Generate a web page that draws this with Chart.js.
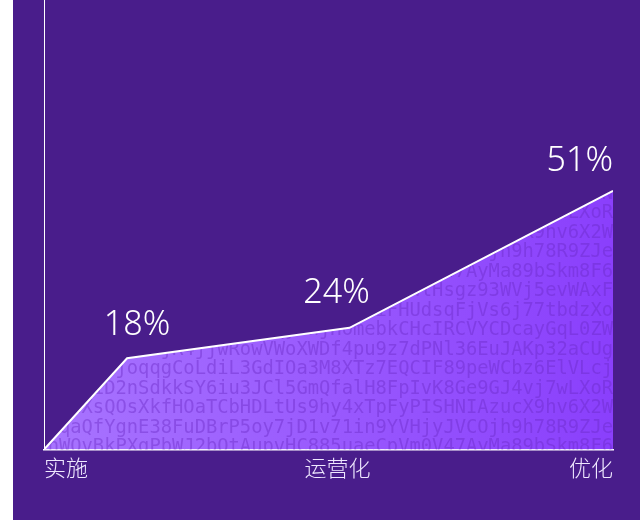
<!DOCTYPE html>
<html>
<head>
<meta charset="utf-8">
<script src="https://cdn.jsdelivr.net/npm/chart.js@4"></script>
<style>
  html, body { margin: 0; background: #fff; }
  #wrap { position: absolute; left: 13px; top: 0; width: 627px; height: 520px; background: #491d8b; }
</style>
</head>
<body>
<div id="wrap"><canvas id="chart" width="627" height="520"></canvas></div>
<script>
// stages shown on the x axis and where they sit on a 0-100 track
const stages = ["实施", "运营化", "优化"];
const stageTicks = [0, 51.6, 100];

// adoption curve
const progressX = [0, 14.6, 53.7, 100];
const progressPct = [0, 18, 24, 51];
const pctLabels = ["", "18%", "24%", "51%"];

// filler text that shows through the area (bottom row first)
const noiseRows = [
  "KehWOvBkPXgPbWJ2bOtAupvHC885uaeCpVm0V47AyMa89bSkm8F6",
  "7TqaQfYgnE38FuDBrP5oy7jD1v71in9YVHjyJVCOjh9h78R9ZJe",
  "bN4lXsQOsXkfHOaTCbHDLtUs9hy4xTpFyPISHNIAzucX9hv6X2W",
  "Wm8p1D2nSdkkSY6iu3JCl5GmQfalH8FpIvK8Ge9GJ4vj7wLXoR",
  "cZ5uRkjoqqgCoLdiL3GdIOa3M8XTz7EQCIF89peWCbz6ElVLcj",
  "Hn2xPeMv3sjR4jjwRowVWoXWDf4pu9z7dPNl36EuJAKp32aCUg",
  "Gy6tQ0zLbWfA8dKuVr1xqyTnjHomebkCHcIRCVYCDcayGqL0ZW",
  "pV3mTz8QwR1nLc5xKb7hYd2sJf9gNa4eUq6oXiFHUdsqFjVs6j77tbdzXo",
  "rB7kW2yNq5tLm9xPc3vZh8dGf1sKj4uTa6eQo0iMwlHsgz93WVj5evWAxF",
  "KehWOvBkPXgPbWJ2bOtAupvHC885uaeCpVm0V47AyMa89bSkm8F6",
  "7TqaQfYgnE38FuDBrP5oy7jD1v71in9YVHjyJVCOjh9h78R9ZJe",
  "bN4lXsQOsXkfHOaTCbHDLtUs9hy4xTpFyPISHNIAzucX9hv6X2W",
  "Wm8p1D2nSdkkSY6iu3JCl5GmQfalH8FpIvK8Ge9GJ4vj7wLXoR",
  "cZ5uRkjoqqgCoLdiL3GdIOa3M8XTz7EQCIF89peWCbz6ElVwbD9N"
];

// draws the mono text clipped to the filled area, before the white line
const noise = {
  id: "noise",
  beforeDatasetDraw(chart, args) {
    const pts = args.meta.data;
    const y0 = chart.scales.y.getPixelForValue(0);
    const ctx = chart.ctx;
    ctx.save();
    ctx.beginPath();
    ctx.moveTo(pts[0].x, y0);
    pts.forEach(p => ctx.lineTo(p.x, p.y));
    ctx.lineTo(pts[pts.length - 1].x, y0);
    ctx.closePath();
    ctx.clip();
    ctx.font = '18.8px "DejaVu Sans Mono"';
    ctx.fillStyle = "rgba(105, 41, 196, 0.42)";
    ctx.textAlign = "right";
    ctx.textBaseline = "alphabetic";
    noiseRows.forEach((row, i) => ctx.fillText(row, chart.chartArea.right, y0 + 2.5 - i * 19.5));
    ctx.restore();
  }
};

// percentage labels above the points
const pctText = {
  id: "pctText",
  afterDatasetsDraw(chart, args, opts) {
    const pts = chart.getDatasetMeta(0).data;
    const ctx = chart.ctx;
    ctx.save();
    ctx.font = '300 34px "Noto Sans"';
    ctx.fillStyle = "#ffffff";
    ctx.textAlign = "center";
    ctx.textBaseline = "alphabetic";
    pctLabels.forEach((t, i) => {
      if (!t) return;
      const w = ctx.measureText(t).width;
      let x = pts[i].x + opts.nudge[i][0];
      x = Math.min(x, chart.chartArea.right - w / 2);
      ctx.fillText(t, x, pts[i].y + opts.nudge[i][1]);
    });
    ctx.restore();
  }
};

new Chart(document.getElementById("chart"), {
  type: "line",
  data: {
    datasets: [{
      data: progressX.map((x, i) => ({ x: x, y: progressPct[i] })),
      borderColor: "#ffffff",
      borderWidth: 2,
      pointRadius: 0,
      tension: 0,
      fill: "origin",
      backgroundColor: ctx => {
        const area = ctx.chart.chartArea;
        if (!area) return "#9a58fe";
        const g = ctx.chart.ctx.createLinearGradient(area.left, 0, area.right, 0);
        g.addColorStop(0, "#a874ff");
        g.addColorStop(1, "#8a3ffc");
        return g;
      }
    }]
  },
  options: {
    responsive: false,
    animation: false,
    layout: { padding: { left: 31, right: 27, top: 0, bottom: 34 } },
    plugins: {
      legend: { display: false },
      tooltip: { enabled: false },
      pctText: { nudge: [[0, 0], [10, -23], [-13, -25], [0, -20]] }
    },
    scales: {
      x: {
        type: "linear",
        min: 0,
        max: 100,
        grid: { display: false, drawTicks: false },
        border: { display: true, color: "#ffffff", width: 1.5 },
        afterBuildTicks: axis => { axis.ticks = stageTicks.map(v => ({ value: v })); },
        ticks: {
          autoSkip: false,
          maxRotation: 0,
          align: "inner",
          padding: 5,
          color: "#efe8ff",
          font: { family: '"Noto Sans CJK SC"', size: 22, weight: 300 },
          callback: (v, i) => stages[i]
        }
      },
      y: {
        min: 0,
        max: 88.6,
        grid: { display: false, drawTicks: false },
        border: { display: true, color: "#ffffff", width: 1 },
        ticks: { display: false },
        afterFit: s => { s.width = 0; }
      }
    }
  },
  plugins: [noise, pctText]
});
</script>
</body>
</html>
